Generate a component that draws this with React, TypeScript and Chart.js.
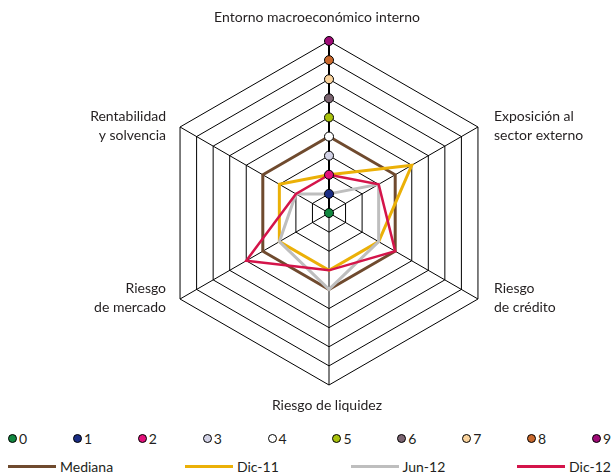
import React, { useEffect, useRef } from "react";
import { Chart, registerables } from "chart.js";
Chart.register(...registerables);

const axisLabels: string[][] = [
  ["Entorno macroeconómico interno"],
  ["Exposición al", "sector externo"],
  ["Riesgo", "de crédito"],
  ["Riesgo de liquidez"],
  ["Riesgo", "de mercado"],
  ["Rentabilidad", "y solvencia"],
];

const medianaValues = [4, 4, 4, 4, 4, 4];
const dic11Values = [2, 5, 3, 3, 3, 3];
const jun12Values = [1, 3, 3, 4, 3, 2];
const dic12Values = [2, 3, 4, 3, 5, 2];

const seriesNames = ["Mediana", "Dic-11", "Jun-12", "Dic-12"];
const seriesColors = ["#6F4A2E", "#EBB007", "#BEBEBE", "#D4144A"];

const scaleValues = [0, 1, 2, 3, 4, 5, 6, 7, 8, 9];
const scaleColors = [
  "#11873F", "#1A2D84", "#E2107A", "#D2D2E6", "#FFFFFF",
  "#A9C20C", "#7B6471", "#FAD39C", "#C9682C", "#9E0A76",
];

const FONT = "Lato, 'Open Sans', sans-serif";
const TEXT = "#231F20";

const labelPlugin = {
  id: "axisLabelsPlugin",
  afterDraw(chart: any) {
    const scale = chart.scales.r;
    const ctx = chart.ctx;
    ctx.save();
    ctx.font = `14px ${FONT}`;
    ctx.fillStyle = TEXT;
    ctx.textBaseline = "middle";
    const lh = 19;
    axisLabels.forEach((lines, i) => {
      const p = scale.getPointPosition(i, scale.drawingArea);
      const dx = p.x - scale.xCenter;
      const dy = p.y - scale.yCenter;
      const n = lines.length;
      let x = p.x;
      let y0 = p.y;
      if (Math.abs(dx) < 1) {
        ctx.textAlign = "center";
        if (dy < 0) {
          x = p.x - 12;
          y0 = p.y - 24 - (n - 1) * lh;
        } else {
          x = p.x - 2;
          y0 = p.y + 20;
        }
      } else {
        ctx.textAlign = dx > 0 ? "left" : "right";
        x = p.x + (dx > 0 ? 16 : -14);
        y0 = p.y - ((n - 1) * lh) / 2 - 1;
      }
      lines.forEach((t, j) => ctx.fillText(t, x, y0 + j * lh));
    });
    ctx.restore();
  },
};

export default function App() {
  const ref = useRef<HTMLCanvasElement | null>(null);

  useEffect(() => {
    document.body.style.overflow = "hidden";
    const canvas = ref.current;
    if (!canvas) return;
    const n = axisLabels.length;
    const pointSets = scaleValues.map((v, k) => ({
      label: String(v),
      data: Array.from({ length: n }, (_, i) => (i === 0 ? v : null)),
      showLine: false,
      pointRadius: 4.5,
      pointBackgroundColor: scaleColors[k],
      pointBorderColor: "#000",
      pointBorderWidth: 1,
      borderColor: "transparent",
      backgroundColor: scaleColors[k],
    }));
    const seriesData = [medianaValues, dic11Values, jun12Values, dic12Values];
    const lineSets = seriesNames.map((name, k) => ({
      label: name,
      data: seriesData[k],
      borderColor: seriesColors[k],
      backgroundColor: "transparent",
      borderWidth: k === 3 ? 2.5 : 3,
      fill: false,
      pointRadius: 0,
      tension: 0,
      borderJoinStyle: "miter",
    }));
    const datasets = [...pointSets, ...lineSets.slice().reverse()];

    const chart = new Chart(canvas, {
      type: "radar",
      data: { labels: axisLabels.map((l) => l.join(" ")), datasets: datasets as any },
      options: {
        animation: false,
        responsive: false,
        maintainAspectRatio: false,
        layout: { padding: { left: 44, right: 0, top: 33, bottom: 43 } },
        plugins: { legend: { display: false }, tooltip: { enabled: false } },
        elements: { line: { tension: 0 } },
        scales: {
          r: {
            min: 0,
            max: 9,
            beginAtZero: true,
            ticks: { display: false, stepSize: 1 },
            grid: { circular: false, color: "#000", lineWidth: 1 },
            angleLines: {
              display: true,
              color: "#000",
              lineWidth: (c: any) => (c.index === 0 ? 2 : 1),
            },
            pointLabels: { display: false },
          },
        },
      },
      plugins: [labelPlugin],
    });
    return () => chart.destroy();
  }, []);

  return (
    <div style={{ position: "fixed", left: 0, top: 0, width: 614, height: 474, overflow: "hidden", fontFamily: FONT, color: TEXT, background: "#fff" }}>
      <canvas ref={ref} width={598} height={420} style={{ position: "absolute", left: 8, top: 8, display: "block", width: 598, height: 420 }} />
      <div style={{ position: "absolute", left: 8, top: 429, width: 603, height: 18, display: "flex", justifyContent: "space-between", alignItems: "center", fontSize: 14 }}>
        {scaleValues.map((v, k) => (
          <div key={v} style={{ display: "flex", alignItems: "center" }}>
            <span style={{ display: "inline-block", width: 7, height: 7, borderRadius: "50%", border: "1.5px solid #000", background: scaleColors[k], marginRight: 2 }} />
            <span>{v}</span>
          </div>
        ))}
      </div>
      <div style={{ position: "absolute", left: 8, top: 458, width: 603, height: 16, display: "flex", justifyContent: "space-between", alignItems: "center", fontSize: 14 }}>
        {seriesNames.map((name, k) => (
          <div key={name} style={{ display: "flex", alignItems: "center" }}>
            <span style={{ display: "inline-block", width: 48, height: 3, background: seriesColors[k], marginRight: 4 }} />
            <span>{name}</span>
          </div>
        ))}
      </div>
    </div>
  );
}
